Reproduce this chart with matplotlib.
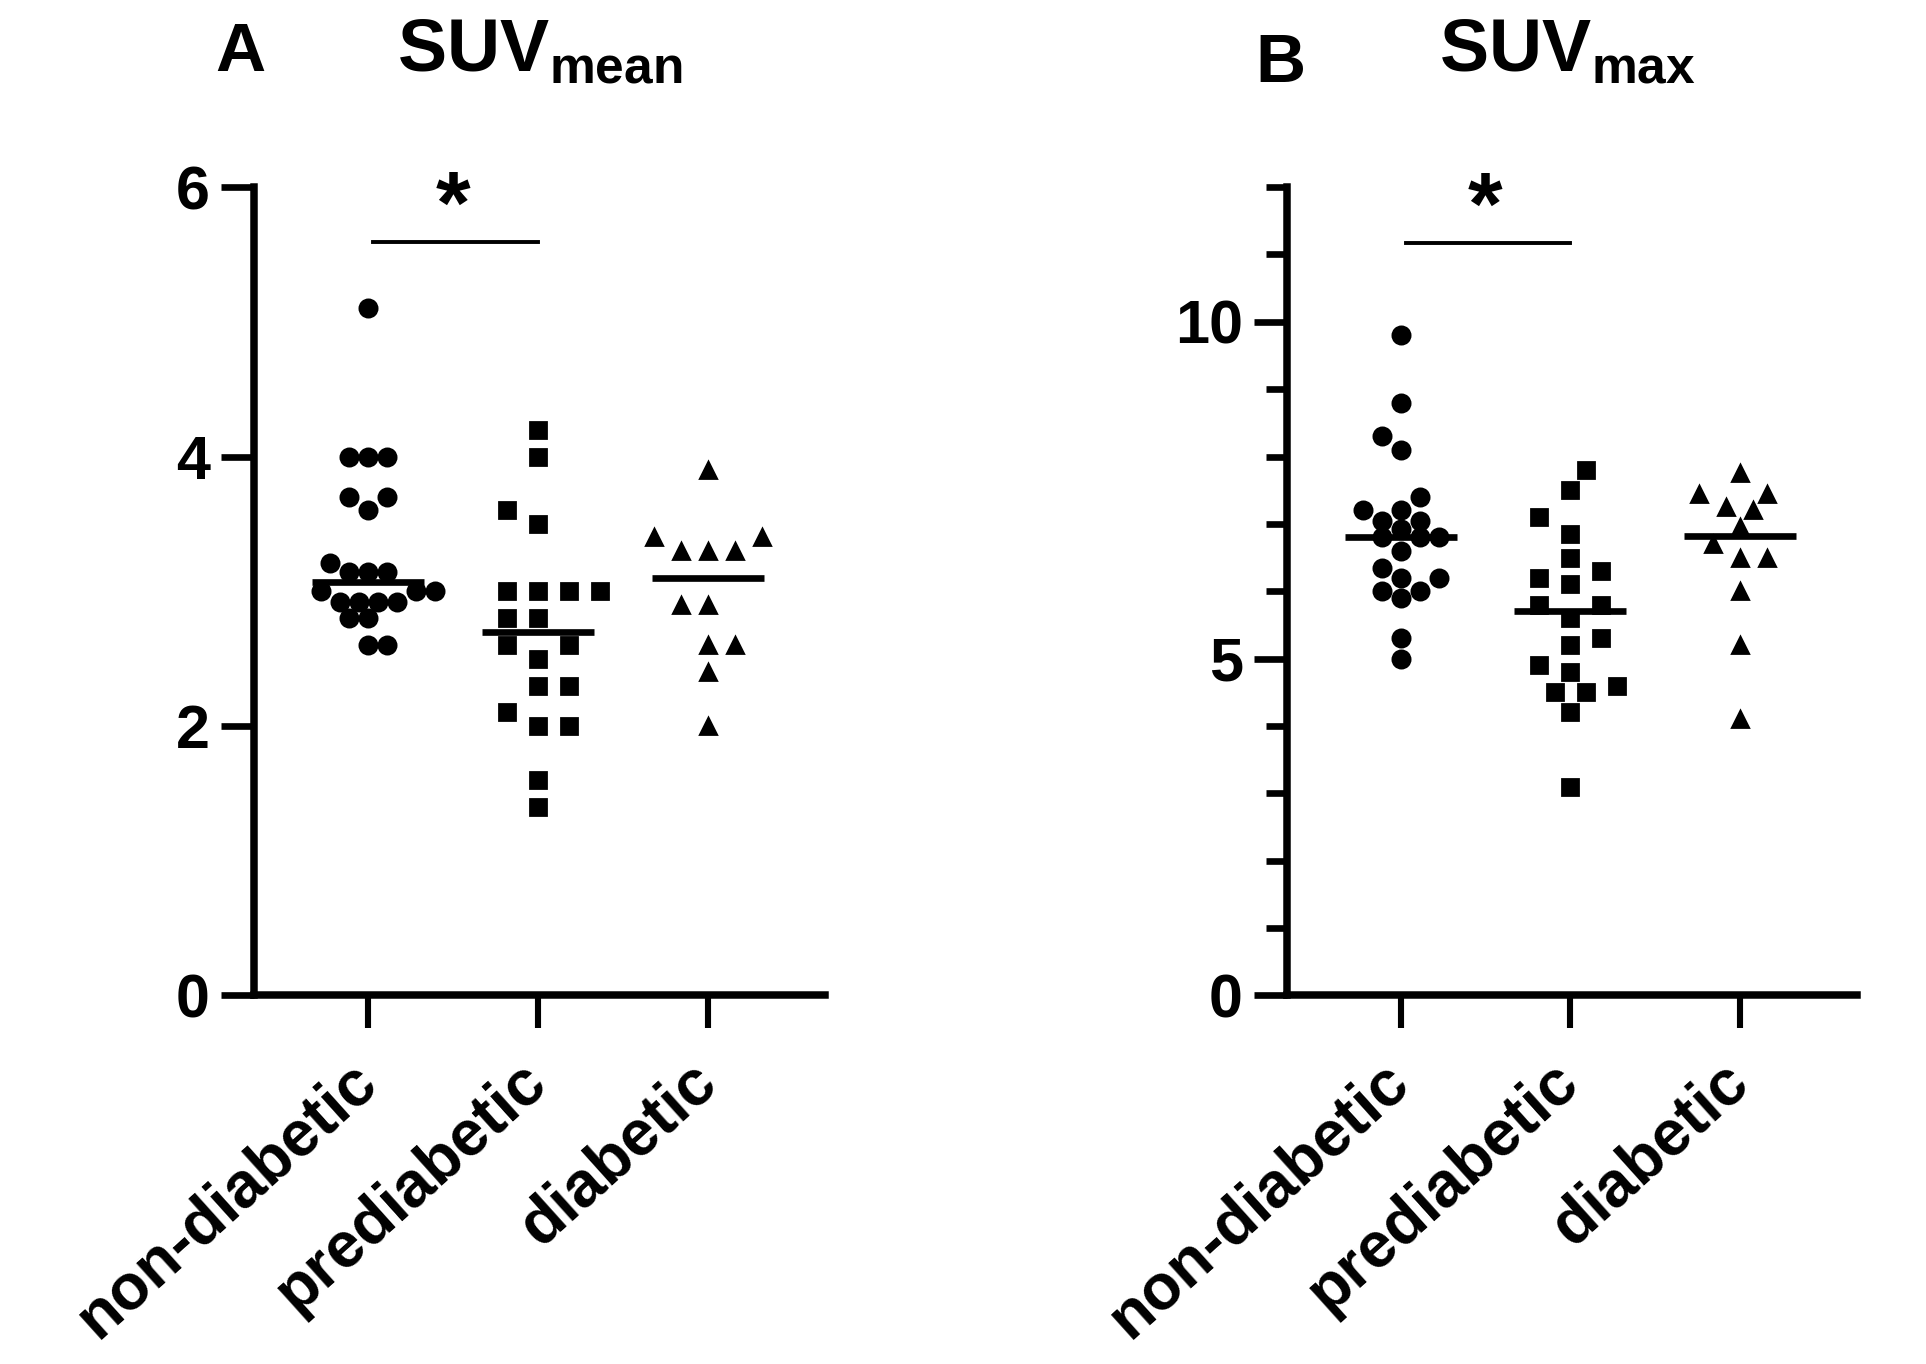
import numpy as np
import matplotlib
matplotlib.use("Agg")
import matplotlib.pyplot as plt
from matplotlib.ticker import MultipleLocator

plt.rcParams['font.family'] = ['Liberation Sans', 'DejaVu Sans']
plt.rcParams['font.weight'] = 'bold'
plt.rcParams['mathtext.fontset'] = 'custom'
plt.rcParams['mathtext.rm'] = 'Liberation Sans:bold'
plt.rcParams['mathtext.bf'] = 'Liberation Sans:bold'

# --- data ---------------------------------------------------------------
groups = ['non-diabetic', 'prediabetic', 'diabetic']
markers = ['o', 's', '^']
marker_sizes = [6.2, 6.0, 5.9]
# swarm spacing per group (pixels, horizontal / vertical), Prism spreads squares more
swarm_spacing = [19, 31, 27]
swarm_height = [17, 23, 19]

suv_mean_nondiab = [5.1, 4.0, 4.0, 4.0, 3.7, 3.7, 3.6, 3.21, 3.14, 3.14, 3.14,
                    3.0, 3.0, 3.0, 2.92, 2.92, 2.92, 2.92, 2.8, 2.8, 2.6, 2.6]
suv_mean_prediab = [4.2, 4.0, 3.6, 3.5, 3.0, 3.0, 3.0, 3.0, 2.8, 2.8, 2.6, 2.6,
                    2.5, 2.3, 2.3, 2.1, 2.0, 2.0, 1.6, 1.4]
suv_mean_diab = [3.9, 3.4, 3.4, 3.3, 3.3, 3.3, 2.9, 2.9, 2.6, 2.6, 2.4, 2.0]

suv_max_nondiab = [9.8, 8.8, 8.3, 8.1, 7.4, 7.2, 7.2, 7.05, 7.05, 6.93, 6.8, 6.8,
                   6.8, 6.6, 6.35, 6.2, 6.2, 6.0, 6.0, 5.9, 5.3, 5.0]
suv_max_prediab = [7.8, 7.5, 7.1, 6.85, 6.5, 6.3, 6.2, 6.1, 5.8, 5.8, 5.6, 5.3,
                   5.2, 4.9, 4.8, 4.6, 4.5, 4.5, 4.2, 3.1]
suv_max_diab = [7.75, 7.45, 7.45, 7.25, 7.2, 6.95, 6.7, 6.5, 6.5, 6.0, 5.2, 4.1]

mean_yticks = [0, 2, 4, 6]
max_yticks = [0, 5, 10]


def swarm_offsets(values, sx, sy, px_x, px_y):
    """ simple beeswarm (ellipse collision), points put as near the centre as possible """
    values = np.asarray(values, dtype=float)
    order = np.argsort(values, kind='stable')
    placed = []
    offs = np.zeros(len(values))
    step = sx / 2.0
    sign = 1
    for i in order:
        y = values[i] * px_y
        cands = [0.0]
        for k in range(1, 40):
            cands += [sign * k * step, -sign * k * step]
        for c in cands:
            if all(((c - px) / sx) ** 2 + ((y - py) / sy) ** 2 >= 0.92 for px, py in placed):
                break
        if c != 0:
            sign = -sign
        placed.append((c, y))
        offs[i] = c / px_x
    return offs


fig = plt.figure(figsize=(9.63, 6.82), dpi=200)
W, H = 1926, 1364
xlim = (-0.67, 2.69)


def panel(rect, data, ylim, yticks, minor, sig_y, letter, title, letter_xy, title_xy):
    ax = fig.add_axes(rect)
    ax.set_xlim(*xlim)
    ax.set_ylim(*ylim)
    px_x = rect[2] * W / (xlim[1] - xlim[0])
    px_y = rect[3] * H / (ylim[1] - ylim[0])
    for i, vals in enumerate(data):
        offs = swarm_offsets(vals, swarm_spacing[i], swarm_height[i], px_x, px_y)
        ax.plot(i + offs, vals, linestyle='none', marker=markers[i], ms=marker_sizes[i],
                color='black', clip_on=False)
        med = np.median(vals)
        ax.plot([i - 0.33, i + 0.33], [med, med], color='black', lw=2.4,
                solid_capstyle='butt')

    for s in ['top', 'right']:
        ax.spines[s].set_visible(False)
    for s in ['left', 'bottom']:
        ax.spines[s].set_linewidth(2.7)
    ax.spines['left'].set_bounds(ylim[0], ylim[1])

    ax.set_yticks(yticks)
    ax.set_yticklabels([str(t) for t in yticks])
    if minor:
        ax.yaxis.set_minor_locator(MultipleLocator(minor))
    ax.tick_params(axis='y', which='major', length=12, width=2.4, labelsize=22, pad=4)
    ax.tick_params(axis='y', which='minor', length=7.5, width=2.4)
    ax.set_xticks(range(len(groups)))
    ax.set_xticklabels(groups, rotation=42, ha='right', va='center',
                       rotation_mode='anchor', fontsize=23)
    ax.tick_params(axis='x', length=12, width=2.2, pad=16)

    # significance bar between first two groups
    ax.plot([0.03, 1.0], [sig_y, sig_y], color='black', lw=1.4, clip_on=False)
    ax.text(0.5, sig_y - (ylim[1] - ylim[0]) * 0.012, '*', ha='center', va='bottom',
            fontsize=32, fontweight='bold')

    fig.text(letter_xy[0], letter_xy[1], letter, fontsize=25, fontweight='bold',
             ha='center', va='baseline')
    fig.text(title_xy[0], title_xy[1], title, fontsize=26.5, ha='center', va='baseline')
    return ax


panel([0.1321, 0.2703, 0.2963, 0.5925],
      [suv_mean_nondiab, suv_mean_prediab, suv_mean_diab],
      (0, 6), mean_yticks, None, 5.59, 'A', r'SUV$_{\mathrm{mean}}$',
      (0.125, 0.948), (0.280, 0.948))

panel([0.6683, 0.2703, 0.2957, 0.5925],
      [suv_max_nondiab, suv_max_prediab, suv_max_diab],
      (0, 12), max_yticks, 1, 11.17, 'B', r'SUV$_{\mathrm{max}}$',
      (0.665, 0.940), (0.814, 0.948))

fig.savefig('out.png', dpi=200, facecolor='white')
